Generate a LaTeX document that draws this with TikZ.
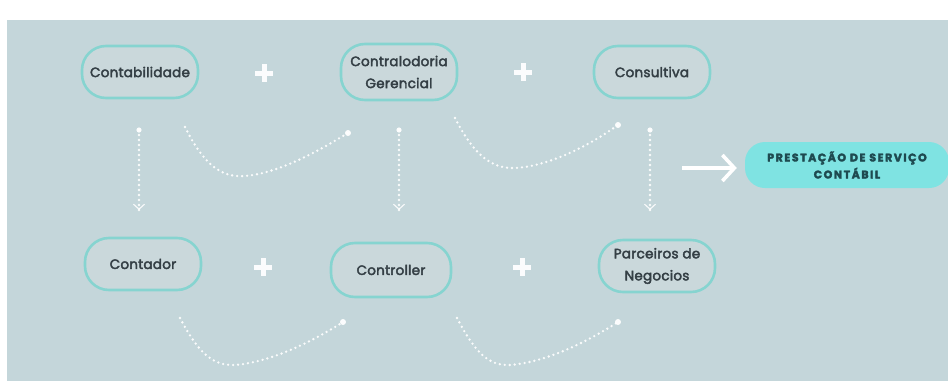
\documentclass[tikz,border=0pt]{standalone}
\usepackage{fontspec}
\setmainfont{Poppins}
\newfontfamily\pillfont{Poppins}[RawFeature={embolden=3}, LetterSpace=2]
\newfontfamily\prestfont{Poppins}[RawFeature={embolden=3}, LetterSpace=14]
\usetikzlibrary{arrows.meta}
\definecolor{bgc}{HTML}{C4D6DA}
\definecolor{nodefill}{HTML}{CAD8DB}
\definecolor{rim}{HTML}{86D4D0}
\definecolor{txt}{HTML}{343F45}
\definecolor{prestfill}{HTML}{7FE3E2}
\definecolor{prestxt}{HTML}{1E4A50}
\begin{document}
\begin{tikzpicture}[x=1pt,y=-1pt,
  pill/.style={draw=rim, line width=2.6pt, fill=nodefill, rounded corners=24pt,
    minimum width=116pt, minimum height=52pt, align=center, text=txt,
    font=\pillfont\fontsize{13.5}{22}\selectfont, inner sep=0pt},
  prest/.style={fill=prestfill, rounded corners=20pt, minimum width=204pt,
    minimum height=46pt, align=center, text=prestxt,
    font=\prestfont\bfseries\fontsize{11}{17}\selectfont, inner sep=0pt},
  dots/.style={white, line width=2.6pt, line cap=round, dash pattern=on 0pt off 5pt, opacity=0.92},
  enddot/.style={white, opacity=0.95},
  plusline/.style={white, line width=5pt, opacity=0.95},
  vtip/.style={-{Straight Barb[length=5pt,width=11pt,line width=1.2pt]}},
  bigarrow/.style={white, line width=4pt, -{Straight Barb[length=12pt,width=26pt,line width=3.6pt]}}
]
\useasboundingbox (0,0) rectangle (948,381);
\fill[white] (0,0) rectangle (948,381);
\fill[bgc] (7,20) rectangle (948,381);

% top row
\node[pill] (contab) at (140,72) {Contabilidade};
\node[pill, minimum height=56pt] (contra) at (399,72) {Contralodoria\\Gerencial};
\node[pill] (consul) at (652,72) {Consultiva};
% bottom row
\node[pill] (contad) at (143,264) {Contador};
\node[pill, minimum width=120pt, minimum height=54pt] (ctrl) at (391,270) {Controller};
\node[pill] (parc) at (657,266) {Parceiros de\\Negocios};
% result
\node[prest] (prestn) at (847,165) {PRESTAÇÃO DE SERVIÇO\\CONTÁBIL};

% plus signs
\foreach \px/\py in {264/73, 523/72, 263/267, 522/267}{
  \draw[plusline] (\px-9,\py) -- (\px+9,\py) (\px,\py-9) -- (\px,\py+9);
}

% vertical dotted arrows
\coordinate (v1a) at (139,130); \coordinate (v1b) at (139,210);
\coordinate (v2a) at (399,130); \coordinate (v2b) at (399,210);
\coordinate (v3a) at (650,130); \coordinate (v3b) at (650,210);
\foreach \a/\b in {v1a/v1b, v2a/v2b, v3a/v3b}{
  \draw[dots] (\a) -- (\b);
  \draw[white, opacity=0.85, vtip] ([yshift=2pt]\b) -- (\b);
  \fill[enddot] (\a) circle (2.6pt);
}

% curved dotted lines
\coordinate (c1a) at (185,127); \coordinate (c1b) at (348,133);
\draw[dots] (c1a) .. controls (203,163) and (220,178) .. (245,176)
  .. controls (280,173) and (320,150) .. (c1b);
\fill[enddot] (c1b) circle (3pt);

\coordinate (c2a) at (455,118); \coordinate (c2b) at (618,125);
\draw[dots] (c2a) .. controls (473,153) and (490,169) .. (515,168)
  .. controls (550,166) and (590,145) .. (c2b);
\fill[enddot] (c2b) circle (3pt);

\coordinate (c3a) at (180,318); \coordinate (c3b) at (343,322);
\draw[dots] (c3a) .. controls (198,352) and (212,366) .. (235,365)
  .. controls (272,362) and (315,340) .. (c3b);
\fill[enddot] (c3b) circle (3pt);

\coordinate (c4a) at (457,318); \coordinate (c4b) at (618,322);
\draw[dots] (c4a) .. controls (475,352) and (488,366) .. (510,365)
  .. controls (548,362) and (590,340) .. (c4b);
\fill[enddot] (c4b) circle (3pt);

% arrow to result
\coordinate (arrs) at (682,168);
\draw[bigarrow] (arrs) -- ([xshift=-8pt]prestn.west |- arrs);
\end{tikzpicture}
\end{document}
